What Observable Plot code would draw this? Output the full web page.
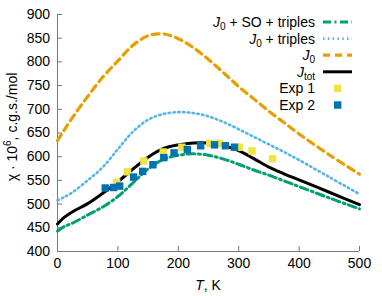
<!DOCTYPE html>
<html><head><meta charset="utf-8">
<script src="https://cdn.jsdelivr.net/npm/d3@7"></script>
<script src="https://cdn.jsdelivr.net/npm/@observablehq/plot@0.6"></script>
<style>
body{margin:0;background:#fff;font-family:"Liberation Sans",Arial,sans-serif;}
#chart{width:382px;height:296px;}
</style></head><body><div id="chart"></div>
<script>
// temperature grid (K) for calculated curves
const temps = [0,10,25,50,75,100,125,150,175,200,225,250,275,300,325,350,375,400,450,500];
// chi * 10^6, c.g.s./mol
const chiSoTriples = [443,452,460,477,494,516,545,574,594,603,606,603,595,584,572,561,549,537,513,490];
const chiTriples   = [508,514,525,550,578,616,653,678,690,694,692,685,673,658,642,626,610,593,557,521];
const chiJ0        = [634,654,683,727,768,802,835,855,859,849,830,805,777,748,722,696,672,648,604,563];
const chiJtot      = [458,471,484,501,523,547,574,599,617,625,629,629,623,613,596,578,564,551,525,499];
// experiments
const exp1T   = [98,116,143,175,206,252,268,301,322,356];
const exp1Chi = [546,568,591,610,620,628,628,620,612,596];
const exp2T   = [79,93,103,126,141,158,176,193,215,237,260,278,293];
const exp2Chi = [534,535,538,557,569,583,598,608,615,623,625,623,620];
// ticks
const xTicks = [0,100,200,300,400,500];
const yTicks = [400,450,500,550,600,650,700,750,800,850,900];

const series = [
  {key:"soTriples", vals: chiSoTriples, color:"#009E73", width:3, dash:"8,3.5,2,3.5"},
  {key:"triples",   vals: chiTriples,   color:"#56B4E9", width:2.6, dash:"1.5,3.3"},
  {key:"j0",        vals: chiJ0,        color:"#E69F00", width:3.2, dash:"7,5"},
  {key:"jtot",      vals: chiJtot,      color:"#000000", width:3, dash:null}
];
const toRows = vals => temps.map((t,i)=>({T:t, chi:vals[i]}));
const exp1 = exp1T.map((t,i)=>({T:t, chi:exp1Chi[i]}));
const exp2 = exp2T.map((t,i)=>({T:t, chi:exp2Chi[i]}));

const lineMarks = series.map(s => Plot.line(toRows(s.vals), {
  x:"T", y:"chi", stroke:s.color, strokeWidth:s.width,
  strokeDasharray: s.dash ?? undefined, curve:"catmull-rom"
}));

const plot = Plot.plot({
  width:382, height:296,
  marginLeft:57, marginRight:23, marginTop:14, marginBottom:45,
  x:{domain:[0,500]},
  y:{domain:[400,900]},
  style:{fontFamily:"'Liberation Sans', Arial, sans-serif", fontSize:"14px", color:"#000", background:"#fff", overflow:"visible"},
  marks:[
    Plot.ruleY([400], {stroke:"#777"}),
    Plot.ruleX([0], {stroke:"#777"}),
    Plot.axisX({ticks:xTicks, tickSize:-5, tickPadding:12, stroke:"#777", fill:"#000", label:null}),
    Plot.axisY({ticks:yTicks, tickSize:-5, tickPadding:12.5, stroke:"#777", fill:"#000", label:null}),
    ...lineMarks,
    Plot.dot(exp1, {x:"T", y:"chi", symbol:"square", r:4.2, fill:"#F0E442", stroke:"none"}),
    Plot.dot(exp2, {x:"T", y:"chi", symbol:"square", r:4.2, fill:"#0072B2", stroke:"none"})
  ]
});
document.getElementById("chart").appendChild(plot);

const svg = d3.select(plot);
const g = svg.append("g").attr("font-family","'Liberation Sans', Arial, sans-serif").attr("font-size",14).attr("fill","#000");

// axis titles
const xl = g.append("text").attr("x",208).attr("y",290).attr("text-anchor","middle");
xl.append("tspan").attr("font-style","italic").text("T");
xl.append("tspan").text(", K");

const yl = g.append("text").attr("transform","translate(17,127) rotate(-90)").attr("text-anchor","middle");
yl.append("tspan").text("χ · 10");
yl.append("tspan").attr("font-size",10).attr("dy",-6).text("6");
yl.append("tspan").attr("dy",6).text(", c.g.s./mol");

// legend
const legendItems = [
  {parts:[["J","i"],["0","sub"],[" + SO + triples",""]], type:"line", s:series[0]},
  {parts:[["J","i"],["0","sub"],[" + triples",""]], type:"line", s:series[1]},
  {parts:[["J","i"],["0","sub"]], type:"line", s:series[2]},
  {parts:[["J","i"],["tot","sub"]], type:"line", s:series[3]},
  {parts:[["Exp 1",""]], type:"dot", color:"#F0E442"},
  {parts:[["Exp 2",""]], type:"dot", color:"#0072B2"}
];
legendItems.forEach((it,i)=>{
  const cy = 22 + i*16.6;
  const t = g.append("text").attr("x",315).attr("y",cy+5).attr("text-anchor","end");
  let shifted = false;
  it.parts.forEach(([txt,kind])=>{
    const sp = t.append("tspan").text(txt);
    if (kind==="i") sp.attr("font-style","italic");
    if (kind==="sub") { sp.attr("font-size",10).attr("dy",3); shifted = true; }
    else if (shifted) { sp.attr("dy",-3); shifted=false; }
  });
  if (it.type==="line") {
    const l = g.append("line").attr("x1",323).attr("x2",352).attr("y1",cy).attr("y2",cy)
      .attr("stroke",it.s.color).attr("stroke-width",it.s.width);
    if (it.s.dash) l.attr("stroke-dasharray",it.s.dash);
  } else {
    g.append("rect").attr("x",334).attr("y",cy-3.7).attr("width",7.4).attr("height",7.4).attr("fill",it.color);
  }
});
</script>
</body></html>
